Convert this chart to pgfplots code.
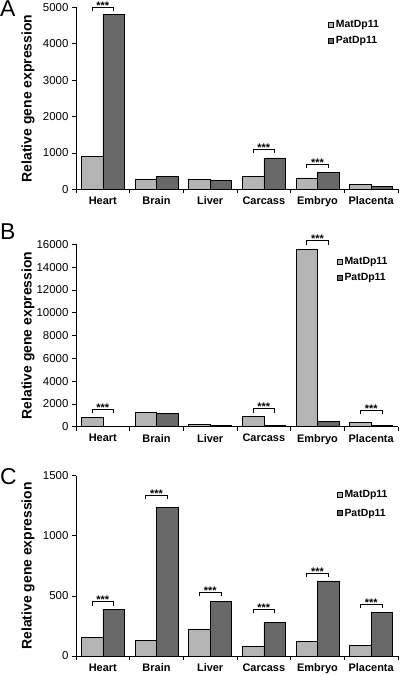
\documentclass[border=0pt]{standalone}
\usepackage{fontspec}
\setmainfont{Liberation Sans}
\usepackage{pgfplots}
\pgfplotsset{compat=1.18}
\definecolor{matc}{RGB}{180,180,180}
\definecolor{patc}{RGB}{104,104,104}
\newcommand{\sig}[2]{%
  \draw[line width=0.7pt] ([yshift=-4bp]axis cs:#1-0.2,#2) -- (axis cs:#1-0.2,#2) -- (axis cs:#1+0.2,#2) -- ([yshift=-4bp]axis cs:#1+0.2,#2);
  \node[font=\bfseries\fontsize{11}{11}\selectfont, anchor=base, inner sep=0pt] at ([yshift=-2bp]axis cs:#1,#2) {***};
}
\pgfplotsset{
  panel/.style={
    scale only axis, width=322bp,
    xmin=-0.5, xmax=5.5,
    axis x line*=bottom, axis y line*=left,
    xtick={-0.5,0.5,...,5.5},
    x tick label as interval,
    xticklabels={Heart,Brain,Liver,Carcass,Embryo,Placenta},
    xticklabel style={font=\fontsize{11}{12}\selectfont\bfseries},
    yticklabel style={font=\fontsize{11.5}{12}\selectfont},
    /pgf/number format/assume math mode=true,
    /pgf/number format/1000 sep={},
    scaled y ticks=false,
    tick align=outside,
    major tick length=4bp,
    ymin=0,
    ybar=0pt, bar width=0.4,
    clip=false,
    ylabel={Relative gene expression},
    every axis y label/.style={at={([xshift=-48bp]axis description cs:0,0.5)}, rotate=90, anchor=center, font=\fontsize{14}{16}\selectfont\bfseries},
    legend style={draw=none, fill=none, font=\fontsize{10.5}{12}\selectfont\bfseries, anchor=north west, inner sep=0pt},
    legend cell align=left,
    axis line style={black, line width=0.7pt},
    tick style={black, line width=0.7pt},
  },
  mat/.style={draw=black, fill=matc, line width=0.5pt, bar shift=-0.2},
  pat/.style={draw=black, fill=patc, line width=0.5pt, bar shift=0.2},
  sq/.style={legend image code/.code={\draw[##1,draw=black] (0bp,-2.5bp) rectangle (5bp,2.5bp);}},
}
\begin{document}
\begin{tikzpicture}
\useasboundingbox (0,0) rectangle (400bp,677bp);
\node[anchor=base west, inner sep=0pt, font=\fontsize{23}{23}\selectfont] at (0bp,660bp) {A};
\node[anchor=base west, inner sep=0pt, font=\fontsize{23}{23}\selectfont] at (0bp,437bp) {B};
\node[anchor=base west, inner sep=0pt, font=\fontsize{23}{23}\selectfont] at (0bp,192bp) {C};
% Panel A
\begin{axis}[panel, at={(76bp,487.5bp)}, anchor=south west, height=182.2bp,
  ymax=5000, ytick={0,1000,...,5000}, sq,
  legend style={at={(axis description cs:0.783,0.94)}, row sep=3bp}]
\addplot[mat] coordinates {(0,900) (1,290) (2,270) (3,365) (4,320) (5,145)};
\addplot[pat] coordinates {(0,4800) (1,370) (2,245) (3,865) (4,475) (5,90)};
\legend{MatDp11,PatDp11}
\sig{0}{5000}
\sig{3}{1104}
\sig{4}{693}
\end{axis}
% Panel B
\begin{axis}[panel, at={(76bp,250.3bp)}, anchor=south west, height=182.4bp,
  ymax=16000, ytick={0,2000,...,16000}, sq,
  legend style={at={(axis description cs:0.81,0.94)}, row sep=3bp}]
\addplot[mat] coordinates {(0,790) (1,1255) (2,200) (3,875) (4,15560) (5,380)};
\addplot[pat] coordinates {(0,10) (1,1200) (2,115) (3,90) (4,440) (5,100)};
\legend{MatDp11,PatDp11}
\sig{0}{1521}
\sig{3}{1579}
\sig{4}{16320}
\sig{5}{1462}
\end{axis}
% Panel C
\begin{axis}[panel, at={(76bp,21bp)}, anchor=south west, height=180.3bp,
  ymax=1500, ytick={0,500,1000,1500}, sq,
  legend style={at={(axis description cs:0.81,0.932)}, row sep=6bp}]
\addplot[mat] coordinates {(0,152) (1,128) (2,225) (3,83) (4,122) (5,91)};
\addplot[pat] coordinates {(0,388) (1,1239) (2,452) (3,280) (4,624) (5,366)};
\legend{MatDp11,PatDp11}
\sig{0}{452}
\sig{1}{1336}
\sig{2}{532}
\sig{3}{388}
\sig{4}{688}
\sig{5}{430}
\end{axis}
\end{tikzpicture}
\end{document}
